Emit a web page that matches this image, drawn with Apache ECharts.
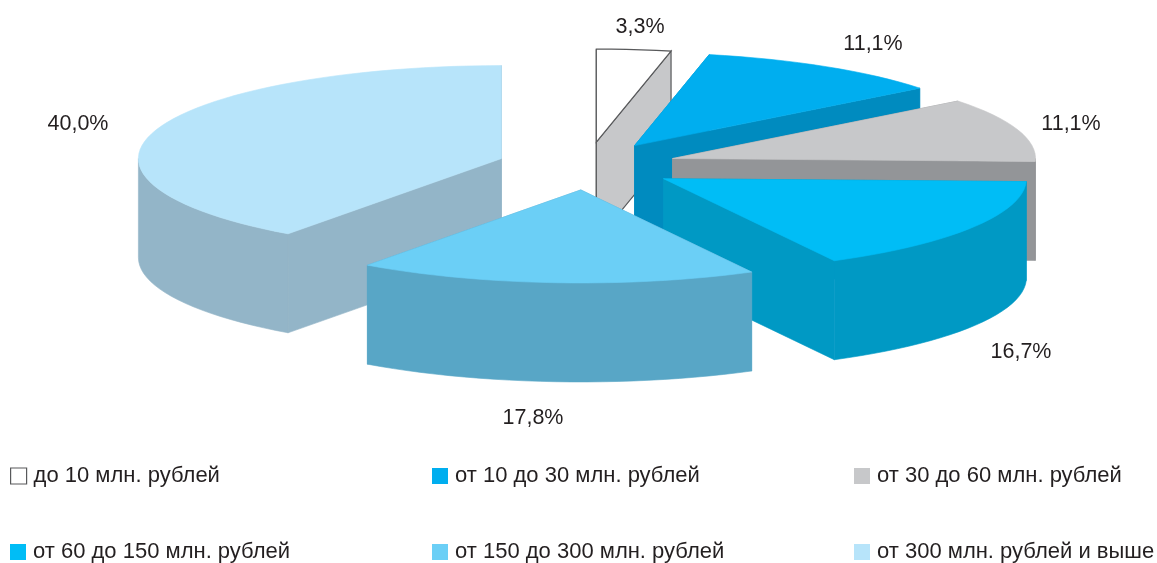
<!DOCTYPE html>
<html><head><meta charset="utf-8">
<style>html,body{margin:0;padding:0;background:#fff}#c{width:1157px;height:563px}</style>
<script src="https://cdn.jsdelivr.net/npm/echarts@6/dist/echarts.min.js"></script>
</head><body><div id="c"></div>
<script>
// Data
var categories = ['до 10 млн. рублей','от 10 до 30 млн. рублей','от 30 до 60 млн. рублей','от 60 до 150 млн. рублей','от 150 до 300 млн. рублей','от 300 млн. рублей и выше'];
var shares = [3.3, 11.1, 11.1, 16.7, 17.8, 40.0];

// Styles and layout
var topColors  = ['#ffffff','#00aeef','#c7c8ca','#00bdf6','#6bcff6','#b7e4fa'];
var sideColors = ['#c7c8ca','#008bbf','#939598','#0099c4','#58a6c6','#93b5c8'];
var drawOrder = [0,1,2,5,3,4];
var pie = {cx:587, cy:166, rx:363, ry:93, depth:99, explodeX:90, explodeY:24, step:2.5};
var labelAnchors = [[640,27],[873,44],[1071,124],[1021,352],[533,418],[78,124]];
var legendAnchors = [[10,465],[432,465],[854,465],[10,541],[432,541],[854,541]];
var FONT = '"Liberation Sans", Arial, sans-serif';

var total = shares.reduce(function(a,b){return a+b;},0);
var starts = [], acc = 0;
shares.forEach(function(v){starts.push(acc); acc += v;});

function renderSlice(idx){
  return function(params, api){
    var value = api.value(1), start = api.value(0);
    var a0 = start/total*360, a1 = (start+value)/total*360, mid = (a0+a1)/2;
    var rad = Math.PI/180;
    var ax = pie.cx + pie.explodeX*Math.sin(mid*rad);
    var ay = pie.cy - pie.explodeY*Math.cos(mid*rad);
    function P(a,dz){return [ax+pie.rx*Math.sin(a*rad), ay-pie.ry*Math.cos(a*rad)+(dz||0)];}
    function arc(from,to,dz){
      var pts=[], n=Math.max(1,Math.ceil((to-from)/pie.step));
      for(var i=0;i<=n;i++) pts.push(P(from+(to-from)*i/n,dz));
      return pts;
    }
    var outlined = idx===0;
    function poly(pts,fill){
      return {type:'polygon', shape:{points:pts}, style: outlined
        ? {fill:fill, stroke:'#58595b', lineWidth:1.2}
        : {fill:fill, stroke:fill, lineWidth:0.6}};
    }
    var children=[];
    // radial walls, back one first
    var apex=[ax,ay];
    var walls=[a0,a1].map(function(a){
      var e=P(a);
      return {y:(ay+e[1])/2, pts:[apex,e,[e[0],e[1]+pie.depth],[ax,ay+pie.depth]]};
    }).sort(function(p,q){return p.y-q.y;});
    walls.forEach(function(w){children.push(poly(w.pts,sideColors[idx]));});
    // curved outer wall (front half only)
    var f=Math.max(a0,90), t=Math.min(a1,270);
    if(t>f){
      children.push(poly(arc(f,t,0).concat(arc(f,t,pie.depth).reverse()),sideColors[idx]));
    }
    // top face
    children.push(poly([apex].concat(arc(a0,a1,0)),topColors[idx]));
    // percent label
    children.push({type:'text', style:{
      text:shares[idx].toFixed(1).replace('.',',')+'%',
      x:labelAnchors[idx][0], y:labelAnchors[idx][1],
      textAlign:'center', textVerticalAlign:'middle',
      fill:'#231f20', font:'21.5px '+FONT
    }});
    return {type:'group', children:children};
  };
}

var series = drawOrder.map(function(i){
  return {
    type:'custom', name:categories[i], coordinateSystem:'none',
    silent:true, animation:false,
    itemStyle:{color:topColors[i]},
    renderItem:renderSlice(i),
    data:[[starts[i], shares[i]]]
  };
});

var legends = categories.map(function(name,i){
  return {
    left:legendAnchors[i][0], top:legendAnchors[i][1],
    orient:'horizontal', padding:0, itemWidth:16, itemHeight:16, itemGap:0,
    selectedMode:false, icon:'rect',
    textStyle:{fontFamily:FONT, fontSize:22, color:'#231f20', padding:[2,0,0,2]},
    data:[{name:name, itemStyle: i===0 ? {color:'#ffffff',borderColor:'#58595b',borderWidth:1.2} : {color:topColors[i],borderWidth:0}}]
  };
});

var chart = echarts.init(document.getElementById('c'),null,{renderer:'canvas'});
chart.setOption({animation:false, backgroundColor:'#ffffff', legend:legends, series:series, tooltip:{show:false}});
</script></body></html>
